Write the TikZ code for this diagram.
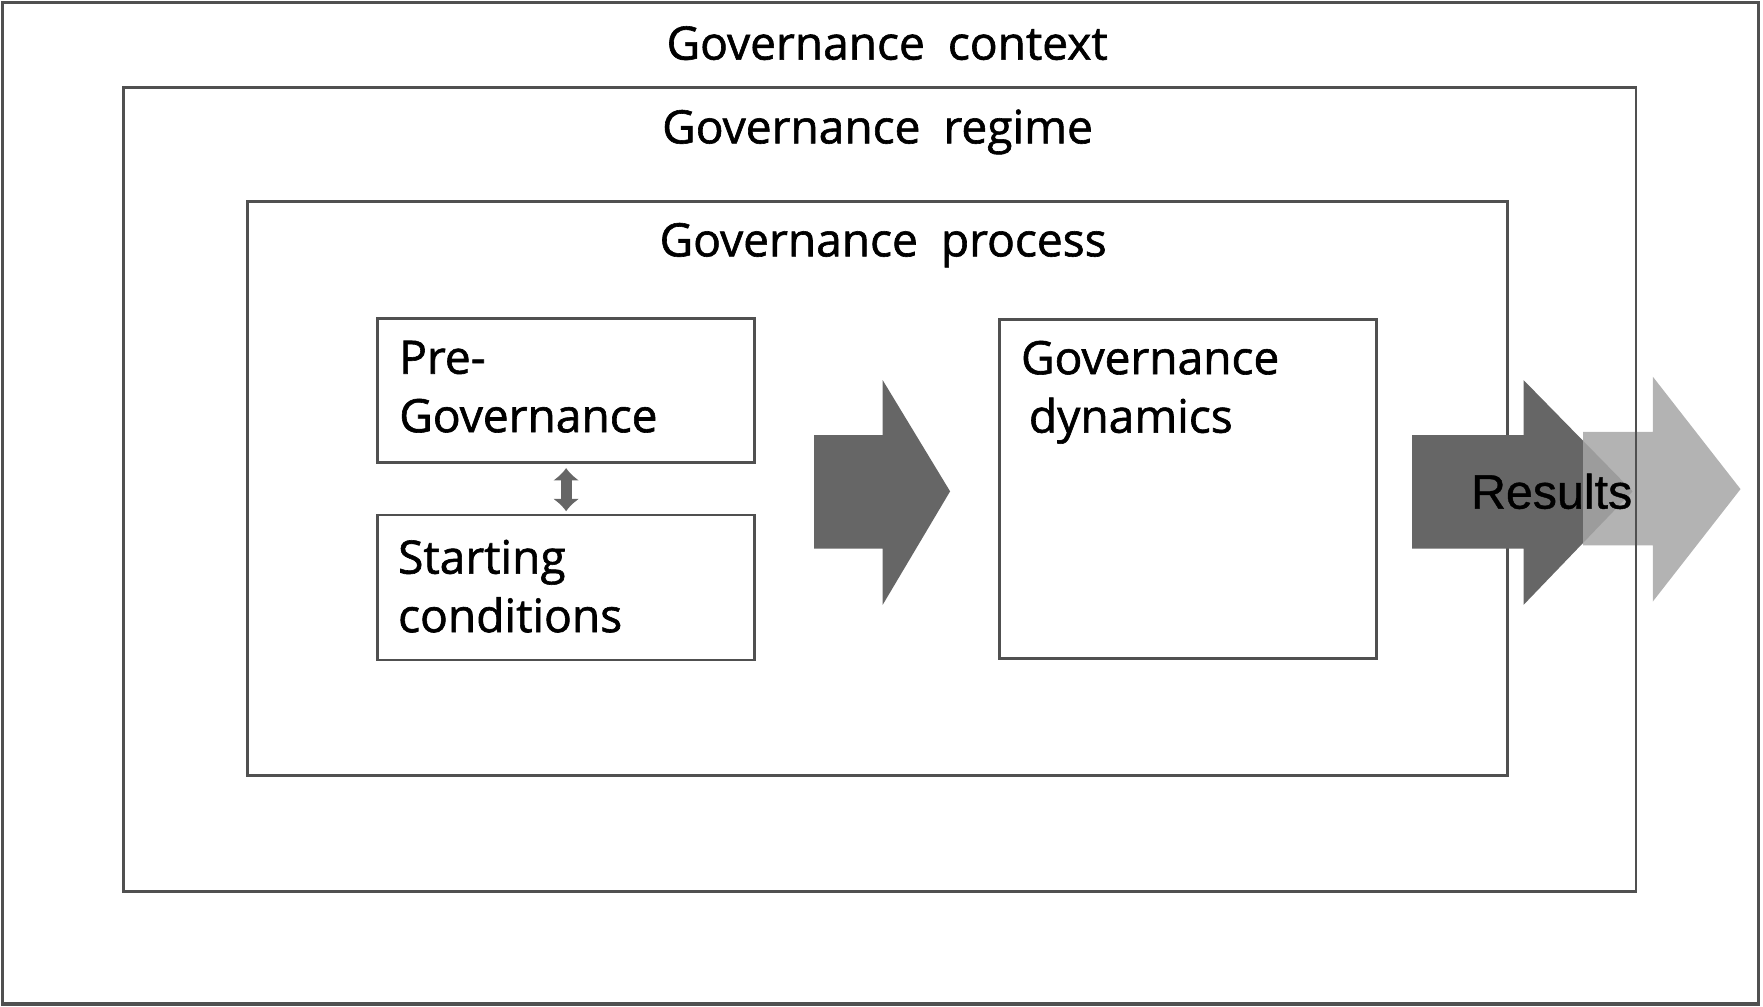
\documentclass[tikz,border=0pt]{standalone}
\usepackage{fontspec}
\setmainfont{Open Sans}[FakeBold=1.3]
\newfontfamily\resultsfont{Liberation Sans}[FakeBold=0.8]
\usetikzlibrary{positioning,arrows.meta}
\definecolor{linegray}{HTML}{505050}
\definecolor{darkarrow}{HTML}{666666}
\definecolor{lightarrow}{HTML}{A6A6A6}
\tikzset{
  frame/.style={draw=linegray, line width=1.3pt, inner sep=0pt},
  title/.style={font=\fontsize{20.5}{26}\selectfont, anchor=base, inner sep=0pt},
  boxtext/.style={font=\fontsize{20.5}{26}\selectfont, align=left, inner sep=0pt, anchor=north west},
  updown/.style={{Latex[length=5.5pt,width=12pt]}-{Latex[length=5.5pt,width=12pt]}, line width=5pt, draw=darkarrow, shorten <=2pt, shorten >=1pt},
}
\begin{document}
\begin{tikzpicture}[x=0.5pt,y=-0.5pt]
      \useasboundingbox (0,0) rectangle (1568,895);
      \node[frame, minimum width=781pt, minimum height=445.5pt, line width=1.5pt] (context) at (783,447.5) {};
      \node[frame, minimum width=560.5pt, minimum height=255.5pt] (process) at (780.5,434.5) {};
      \node[frame, minimum width=167.5pt, minimum height=64pt] (pre) at (503.5,347) {};
      \node[frame, minimum width=167.5pt, minimum height=64.5pt] (start) at (503.5,522.5) {};
      \node[frame, minimum width=167.5pt, minimum height=151pt] (dyn) at (1056.5,435) {};
      \node[title] (ctxtitle) at (789,53) {Governance\hspace{0.5em}context};
      \node[title] (regtitle) at (780.5,127.5) {Governance\hspace{0.5em}regime};
      \node[title] (proctitle) at (785.5,228) {Governance\hspace{0.5em}process};
      \node[boxtext, below right=10.5pt and 10pt of pre.north west] (pretext) {Pre-\\Governance};
      \node[boxtext, below right=11.5pt and 9.5pt of start.north west] (starttext) {Starting\\conditions};
      \node[boxtext, below right=10pt and 10pt of dyn.north west] (dyntext) {Governance\\\hspace*{3.5pt}dynamics};
      \draw[updown] (pre) -- (start);
      \fill[darkarrow] (724,387) -- (785,387) -- (785,338) -- (845,437) -- (785,538) -- (785,488) -- (724,488) -- cycle;
      \fill[darkarrow] (1256,387) -- (1355,387) -- (1355,338) -- (1452,437) -- (1355,538) -- (1355,488) -- (1256,488) -- cycle;
      \fill[lightarrow, fill opacity=0.85] (1408,384) -- (1470,384) -- (1470,335) -- (1548,435) -- (1470,535) -- (1470,485) -- (1408,485) -- cycle;
      \node[frame, minimum width=672.5pt, minimum height=357.5pt] (regime) at (782.5,435.5) {};
      \node[font=\resultsfont\fontsize{21.5}{26}\selectfont, inner sep=0pt] (results) at (1380,437) {Results};
    \end{tikzpicture}
\end{document}
